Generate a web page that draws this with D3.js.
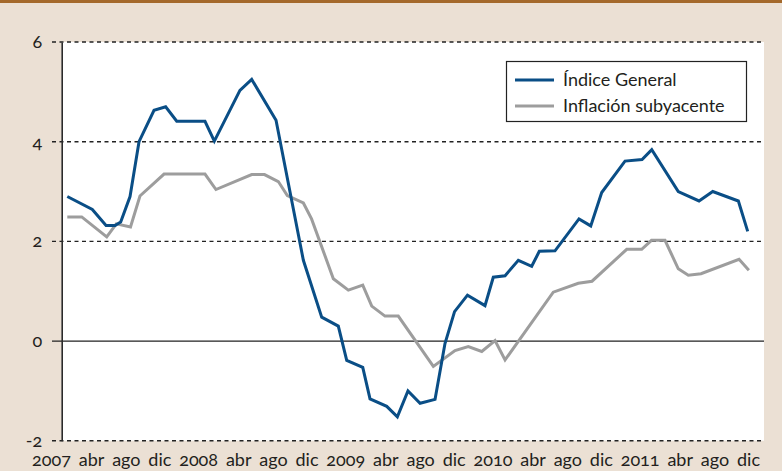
<!DOCTYPE html>
<html>
<head>
<meta charset="utf-8">
<script src="https://cdn.jsdelivr.net/npm/d3@7"></script>
<style>
  html, body { margin: 0; padding: 0; background: #EBE0D4; }
  svg { display: block; }
  text { font-family: Lato, "Open Sans", sans-serif; font-variant-numeric: oldstyle-nums; font-feature-settings: "onum" 1; fill: #231f20; }
</style>
</head>
<body>
<div id="chart"></div>
<script>
// ---- data (months since Jan 2007) ----
const indiceMonths = [0, 2.17, 3.36, 4.14, 4.63, 5.44, 6.22, 7.52, 8.53, 9.49, 11.94, 12.75, 14.97, 15.99, 18.10, 20.47, 22.06, 23.50, 24.23, 25.62, 26.25, 27.70, 28.62, 29.54, 30.59, 31.89, 32.75, 33.58, 34.70, 36.22, 36.94, 37.96, 39.11, 40.27, 40.93, 42.29, 44.37, 45.39, 46.34, 48.36, 49.84, 50.68, 52.98, 54.78, 55.97, 58.19, 59.0];
const indiceValues = [2.90, 2.64, 2.32, 2.32, 2.39, 2.90, 4.00, 4.63, 4.70, 4.41, 4.41, 4.01, 5.03, 5.25, 4.43, 1.62, 0.48, 0.30, -0.39, -0.53, -1.16, -1.31, -1.52, -1.00, -1.25, -1.17, -0.05, 0.59, 0.92, 0.71, 1.28, 1.31, 1.62, 1.50, 1.80, 1.81, 2.45, 2.31, 2.98, 3.61, 3.64, 3.84, 3.00, 2.81, 3.00, 2.81, 2.20];
const subyMonths = [0, 1.25, 3.42, 4.25, 5.48, 6.30, 8.39, 11.94, 12.89, 15.99, 17.10, 18.30, 19.08, 20.47, 21.18, 23.07, 24.37, 25.62, 26.40, 27.55, 28.70, 31.74, 33.62, 34.77, 35.94, 37.09, 37.96, 42.14, 44.31, 45.50, 48.51, 49.81, 50.66, 51.83, 52.98, 53.85, 54.95, 58.25, 59.1];
const subyValues = [2.49, 2.49, 2.09, 2.35, 2.29, 2.91, 3.35, 3.35, 3.04, 3.34, 3.34, 3.20, 2.92, 2.77, 2.45, 1.25, 1.02, 1.12, 0.70, 0.50, 0.50, -0.51, -0.19, -0.11, -0.21, 0.01, -0.38, 0.98, 1.16, 1.20, 1.84, 1.84, 2.02, 2.02, 1.45, 1.32, 1.35, 1.64, 1.42];
const xTickLabels = ["2007", "abr", "ago", "dic", "2008", "abr", "ago", "dic", "2009", "abr", "ago", "dic", "2010", "abr", "ago", "dic", "2011", "abr", "ago", "dic"];
const yTicks = [-2, 0, 2, 4, 6];
const seriesNames = ["Índice General", "Inflación subyacente"];
const seriesColors = ["#0A4E86", "#9D9D9D"];

// ---- layout ----
const W = 782, H = 471;
const svg = d3.select("#chart").append("svg").attr("width", W).attr("height", H);

svg.append("rect").attr("x", 0).attr("y", 0).attr("width", W).attr("height", H).attr("fill", "#EBE0D4");
svg.append("rect").attr("x", 0).attr("y", 0).attr("width", W).attr("height", 3).attr("fill", "#A4692B");

const plotL = 61.7, plotR = 764, plotT = 42, plotB = 440.7;
const x = d3.scaleLinear().domain([0, 59]).range([67.3, 747.7]);
const y = d3.scaleLinear().domain([-2, 6]).range([plotB, plotT]);

// white plot area
svg.append("rect").attr("x", plotL).attr("y", plotT).attr("width", plotR - plotL).attr("height", plotB - plotT).attr("fill", "#ffffff");

// gridlines
svg.append("g").selectAll("line").data(yTicks).join("line")
  .attr("x1", 52).attr("x2", plotR)
  .attr("y1", d => y(d)).attr("y2", d => y(d))
  .attr("stroke", "#222")
  .attr("stroke-width", d => d === 0 ? 1.2 : 1.4)
  .attr("stroke-dasharray", d => d === 0 ? null : "4,3.5");

// y axis
const yAxis = d3.axisLeft(y).tickValues(yTicks).tickSize(0).tickPadding(19.5).tickFormat(d => String(d));
const gy = svg.append("g").attr("transform", `translate(${plotL},0)`).call(yAxis);
gy.select(".domain").attr("stroke", "#2a2a2a").attr("stroke-width", 1.6);
gy.selectAll("text").attr("font-size", 18).attr("dy", "0.3em").style("font-family", "Lato, sans-serif").attr("fill", "#231f20");

// lines
const line = d3.line().x(d => x(d[0])).y(d => y(d[1]));
const series = [
  d3.zip(subyMonths, subyValues),
  d3.zip(indiceMonths, indiceValues)
];
const order = [1, 0];
svg.append("g").selectAll("path").data(series).join("path")
  .attr("d", line)
  .attr("fill", "none")
  .attr("stroke", (d, i) => seriesColors[order[i]])
  .attr("stroke-width", 3)
  .attr("stroke-linejoin", "miter");

// x labels: spread as a flowing row between left and right edges
const gx = svg.append("g");
const xt = gx.selectAll("text").data(xTickLabels).join("text")
  .attr("y", 466).attr("font-size", 18).text(d => d);
const widths = xt.nodes().map(n => n.getComputedTextLength());
const left = 32, right = 760;
const gap = (right - left - d3.sum(widths)) / (xTickLabels.length - 1);
let cx = left;
const pos = widths.map(w => { const p = cx; cx += w + gap; return p; });
xt.attr("x", (d, i) => pos[i]);

// legend
const lg = svg.append("g");
lg.append("rect").attr("x", 506.5).attr("y", 61.5).attr("width", 240).attr("height", 60)
  .attr("fill", "#fff").attr("stroke", "#222").attr("stroke-width", 1.2);
seriesNames.forEach((name, i) => {
  const yy = 80 + i * 26;
  lg.append("line").attr("x1", 515).attr("x2", 554).attr("y1", yy).attr("y2", yy)
    .attr("stroke", seriesColors[i]).attr("stroke-width", 3);
  lg.append("text").attr("x", 563).attr("y", yy + 6).attr("font-size", 18).text(name);
});
</script>
</body>
</html>
